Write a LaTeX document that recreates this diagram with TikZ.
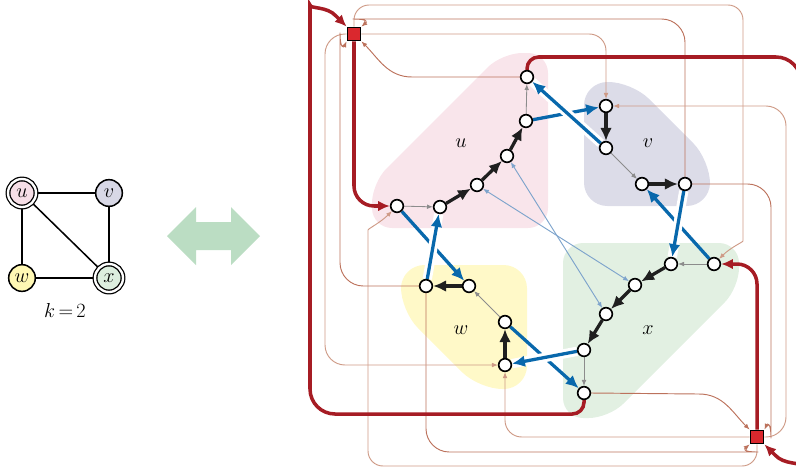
\documentclass[tikz,border=0pt]{standalone}
\usetikzlibrary{arrows.meta}
\definecolor{tourred}{RGB}{166,28,36}
\definecolor{termred}{RGB}{218,40,46}
\definecolor{linkblue}{RGB}{8,104,172}
\definecolor{crossblue}{RGB}{126,164,204}
\definecolor{lightbrown}{RGB}{206,154,134}
\definecolor{darkbrown}{RGB}{188,114,92}
\definecolor{regu}{RGB}{249,229,235}
\definecolor{regv}{RGB}{220,220,232}
\definecolor{regw}{RGB}{255,249,200}
\definecolor{regx}{RGB}{226,240,226}
\definecolor{fillu}{RGB}{246,222,230}
\definecolor{fillv}{RGB}{216,216,230}
\definecolor{fillw}{RGB}{255,248,180}
\definecolor{fillx}{RGB}{220,238,222}
\definecolor{bigarrow}{RGB}{187,221,195}
\pgfdeclarelayer{bg}
\pgfdeclarelayer{edges}
\pgfsetlayers{bg,edges,main}
\tikzset{
  vtx/.style={circle,draw,fill=white,line width=1.4pt,minimum size=0.38cm,inner sep=0pt},
  term/.style={rectangle,draw,fill=termred,line width=1pt,minimum size=0.41cm,inner sep=0pt},
  lbl/.style={font=\fontsize{16}{18}\selectfont},
  gnode/.style={circle,draw,line width=1.3pt,minimum size=0.8cm,inner sep=0pt,font=\fontsize{16}{18}\selectfont},
  gring/.style={gnode,double=white,double distance=2pt,line width=1.1pt,minimum size=0.84cm},
  gedge/.style={line width=1.3pt},
  tour/.style={draw=tourred,line width=3pt,-{Latex[length=10pt,width=9pt]}},
  link/.style={draw=linkblue,line width=2.8pt,-{Latex[length=11pt,width=10pt]}},
  over/.style={preaction={draw=white,line width=8pt,-}},
  heavy/.style={draw=black!88,line width=2.8pt,-{Latex[length=11pt,width=10pt]}},
  thin/.style={draw=black!45,line width=0.7pt,-{Latex[length=5pt,width=4pt]}},
  cross/.style={draw=crossblue,line width=0.8pt,{Latex[length=5pt,width=4pt]}-{Latex[length=5pt,width=4pt]}},
  fromsq/.style={draw=lightbrown,line width=0.8pt,-{Latex[length=5pt,width=4pt]}},
  tosq/.style={draw=darkbrown,line width=0.8pt,-{Latex[length=5pt,width=4pt]}},
}
\begin{document}
\begin{tikzpicture}[x=0.03cm,y=0.03cm]
\useasboundingbox (0,0) rectangle (796,-470);
% small graph
\node[gring,fill=fillu] (gu) at (22,-193) {$u$};
\node[gnode,fill=fillv] (gv) at (109,-193) {$v$};
\node[gnode,fill=fillw] (gw) at (22,-278) {$w$};
\node[gring,fill=fillx] (gx) at (109,-278) {$x$};
\node[lbl] (kval) at (65,-310) {$k\mkern-2mu=\mkern-2mu2$};
\begin{pgfonlayer}{edges}
\draw[gedge] (gu) -- (gv);
\draw[gedge] (gu) -- (gw);
\draw[gedge] (gu) -- (gx);
\draw[gedge] (gv) -- (gx);
\draw[gedge] (gw) -- (gx);
\end{pgfonlayer}
\fill[bigarrow] (167,-236) -- (196,-207) -- (196,-222) -- (231,-222) -- (231,-207)
  -- (260,-236) -- (231,-265) -- (231,-250) -- (196,-250) -- (196,-265) -- cycle;
% gadgets
\begin{pgfonlayer}{bg}
\fill[regu,rounded corners=0.6cm] (372,-228) -- (372,-183) -- (502,-53) -- (548,-53) -- (548,-228) -- cycle;
\fill[regv,rounded corners=0.7cm] (584,-82) -- (632,-82) -- (710,-160) -- (710,-206) -- (584,-206) -- cycle;
\fill[regw,rounded corners=0.7cm] (527,-265) -- (527,-389) -- (479,-389) -- (401,-311) -- (401,-265) -- cycle;
\fill[regx,rounded corners=0.6cm] (563,-243) -- (739,-243) -- (739,-288) -- (609,-418) -- (563,-418) -- cycle;
\end{pgfonlayer}
\node[lbl] (ulab) at (461,-143) {$u$};
\node[lbl] (vlab) at (648,-143) {$v$};
\node[lbl] (wlab) at (461,-330) {$w$};
\node[lbl] (xlab) at (648,-330) {$x$};
\node[vtx] (u1) at (397,-206) {};
\node[vtx] (u2) at (440,-207) {};
\node[vtx] (u3) at (477,-185) {};
\node[vtx] (u4) at (507,-156) {};
\node[vtx] (u5) at (526,-121) {};
\node[vtx] (u6) at (527,-77) {};
\node[vtx] (v1) at (606,-106) {};
\node[vtx] (v2) at (606,-148) {};
\node[vtx] (v3) at (642,-184) {};
\node[vtx] (v4) at (685,-184) {};
\node[vtx] (w1) at (426,-286) {};
\node[vtx] (w2) at (469,-286) {};
\node[vtx] (w3) at (505,-322) {};
\node[vtx] (w4) at (505,-365) {};
\node[vtx] (x1) at (714,-264) {};
\node[vtx] (x2) at (671,-264) {};
\node[vtx] (x3) at (635,-285) {};
\node[vtx] (x4) at (606,-314) {};
\node[vtx] (x5) at (584,-350) {};
\node[vtx] (x6) at (584,-393) {};
\node[term] (sq1) at (354,-34) {};
\node[term] (sq2) at (757,-437) {};
\begin{pgfonlayer}{edges}
% thin links through the squares
\draw[fromsq,rounded corners=0.45cm] (sq1.north) -- (354,-5) -- (743,-5) -- (743,-226) to[out=-90,in=45] (x1);
\draw[fromsq,rounded corners=0.45cm] (sq2.south) -- (757,-466) -- (368,-466) -- (368,-245) to[out=90,in=-135] (u1);
\draw[tosq,rounded corners=0.7cm] (v4.north) -- (685,-19) -- (376,-19) to[out=180,in=40] (sq1.north east);
\draw[tosq,rounded corners=0.7cm] (w1.south) -- (426,-452) -- (735,-452) to[out=0,in=-140] (sq2.south west);
\draw[fromsq,rounded corners=0.5cm] (sq1.east) -| (v1.north);
\draw[fromsq,rounded corners=0.5cm] (sq2.west) -| (w4.south);
\draw[tosq] (u6.west) -- (412,-77) to[out=180,in=-45] (sq1.south east);
\draw[tosq] (x6.east) -- (699,-394) to[out=0,in=135] (sq2.north west);
\draw[fromsq,rounded corners=0.6cm] (sq1.west) -| (325,-365) -- (w4);
\draw[fromsq,rounded corners=0.6cm] (sq2.east) -| (786,-106) -- (v1);
\draw[tosq,rounded corners=0.7cm] (w1.west) -| (340,-56) to[out=90,in=-115] (sq1.south west);
\draw[tosq,rounded corners=0.7cm] (v4.east) -| (771,-415) to[out=-90,in=65] (sq2.north east);
% crossing pairs
\draw[cross] (u3) -- (x3);
\draw[cross] (u4) -- (x4);
% tour
\draw[tour,rounded corners=0.6cm] (sq1.south) |- (u1);
\draw[tour,rounded corners=0.6cm] (sq2.north) |- (x1);
\draw[tour] (x6.south) [rounded corners=0.35cm] -- (584,-414) -- (450,-414) [rounded corners=0.75cm]
  -- (310,-414) -- (310,-30) [sharp corners] .. controls (310,-9) and (327,-6) .. (336,-16) -- (sq1.north west);
\draw[tour] (u6.north) [rounded corners=0.35cm] -- (527,-57) -- (661,-57) [rounded corners=0.75cm]
  -- (801,-57) -- (801,-441) [sharp corners] .. controls (801,-462) and (784,-465) .. (775,-455) -- (sq2.south east);
% links between gadgets
\draw[link] (u5) -- (v1);
\draw[link] (x1) -- (v3);
\draw[link] (u1) -- (w2);
\draw[link] (w3) -- (x6);
\draw[link,over] (v2) -- (u6);
\draw[link,over] (v4) -- (x2);
\draw[link,over] (w1) -- (u2);
\draw[link,over] (x5) -- (w4);
% inside the gadgets
\draw[thin] (u1) -- (u2);
\draw[thin] (u5) -- (u6);
\draw[thin] (v2) -- (v3);
\draw[thin] (w3) -- (w2);
\draw[thin] (x1) -- (x2);
\draw[thin] (x5) -- (x6);
\draw[heavy] (u2) -- (u3);
\draw[heavy] (u3) -- (u4);
\draw[heavy] (u4) -- (u5);
\draw[heavy] (v1) -- (v2);
\draw[heavy] (v3) -- (v4);
\draw[heavy] (w2) -- (w1);
\draw[heavy] (w4) -- (w3);
\draw[heavy] (x2) -- (x3);
\draw[heavy] (x3) -- (x4);
\draw[heavy] (x4) -- (x5);
\end{pgfonlayer}
\end{tikzpicture}
\end{document}
